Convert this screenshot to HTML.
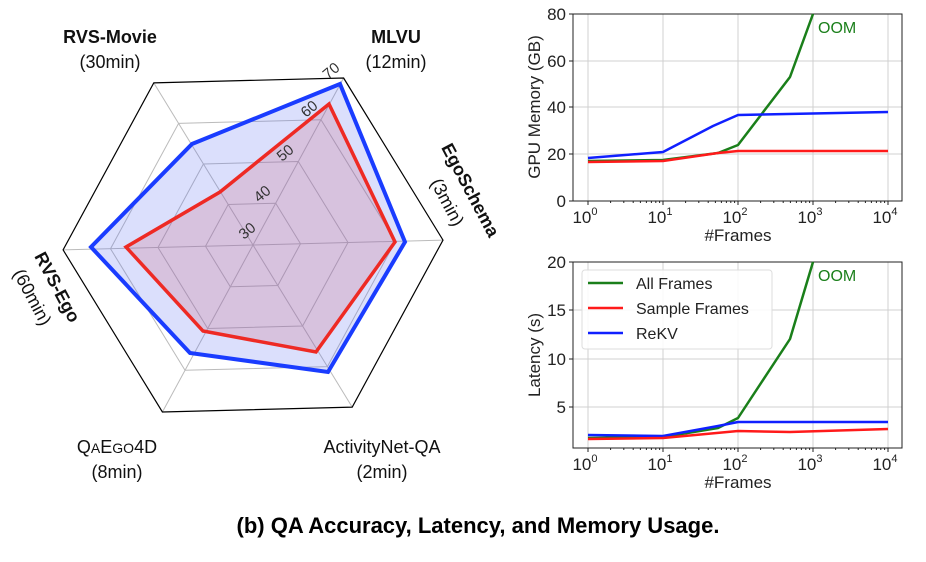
<!DOCTYPE html>
<html><head><meta charset="utf-8"><style>
html,body{margin:0;padding:0;background:#fff;}
svg{display:block;font-family:"Liberation Sans","DejaVu Sans",sans-serif;}
</style></head><body>
<svg width="926" height="562" viewBox="0 0 926 562" xmlns="http://www.w3.org/2000/svg">
<g fill="none" stroke="#bbb" stroke-width="1">
<polygon points="321,119.7 395.5,241.3 327.4,366.6 185,370.3 110.5,248.7 178.6,123.4"/>
<polygon points="298.3,161.5 348,242.5 302.6,326 207.7,328.5 158,247.5 203.4,164"/>
<polygon points="275.7,203.2 300.5,243.8 277.8,285.5 230.3,286.8 205.5,246.2 228.2,204.5"/>
<line x1="253" y1="245" x2="343.6" y2="78"/><line x1="253" y1="245" x2="443" y2="240.1"/>
<line x1="253" y1="245" x2="352.2" y2="407.1"/><line x1="253" y1="245" x2="162.4" y2="412"/>
<line x1="253" y1="245" x2="63.1" y2="249.9"/><line x1="253" y1="245" x2="153.8" y2="82.9"/>
</g>
<polygon points="343.6,78 443,240.1 352.2,407.1 162.4,412 63.1,249.9 153.8,82.9" fill="none" stroke="#000" stroke-width="1.2"/>
<polygon points="340,84 405,242 328,372 190,353 91,247 192,144" fill="rgba(90,110,240,0.22)" stroke="#1a3cff" stroke-width="4"/>
<polygon points="329,104 395,242 316,352 203,331 126,247 220,192" fill="rgba(200,90,120,0.22)" stroke="#ee2a24" stroke-width="3.5"/>
<g font-size="15" fill="#333">
<text transform="translate(244,240) rotate(-40)">30</text>
<text transform="translate(259,203) rotate(-40)">40</text>
<text transform="translate(282,162) rotate(-40)">50</text>
<text transform="translate(306,118) rotate(-40)">60</text>
<text transform="translate(328,80) rotate(-40)">70</text>
</g>
<g font-size="18" fill="#111" text-anchor="middle">
<text x="110" y="43" font-weight="bold">RVS-Movie</text><text x="110" y="68">(30min)</text>
<text x="396" y="43" font-weight="bold">MLVU</text><text x="396" y="68">(12min)</text>
<text x="117" y="453">Q<tspan font-size="14">A</tspan>E<tspan font-size="14">GO</tspan>4D</text><text x="117" y="478">(8min)</text>
<text x="382" y="453">ActivityNet-QA</text><text x="382" y="478">(2min)</text>
<text transform="translate(465,193) rotate(62)" font-weight="bold">EgoSchema</text>
<text transform="translate(442,205) rotate(62)">(3min)</text>
<text transform="translate(52,290) rotate(62)" font-weight="bold">RVS-Ego</text>
<text transform="translate(27,300) rotate(62)">(60min)</text>
</g>
<g stroke="#d0d0d0" stroke-width="1">
<line x1="588" y1="14" x2="588" y2="201"/><line x1="663" y1="14" x2="663" y2="201"/><line x1="738" y1="14" x2="738" y2="201"/><line x1="813" y1="14" x2="813" y2="201"/><line x1="888" y1="14" x2="888" y2="201"/>
<line x1="573" y1="61" x2="902" y2="61"/><line x1="573" y1="107" x2="902" y2="107"/><line x1="573" y1="154" x2="902" y2="154"/>
<line x1="588" y1="262" x2="588" y2="448"/><line x1="663" y1="262" x2="663" y2="448"/><line x1="738" y1="262" x2="738" y2="448"/><line x1="813" y1="262" x2="813" y2="448"/><line x1="888" y1="262" x2="888" y2="448"/>
<line x1="573" y1="310" x2="902" y2="310"/><line x1="573" y1="359" x2="902" y2="359"/><line x1="573" y1="407" x2="902" y2="407"/>
</g>
<rect x="573" y="14" width="329" height="187" fill="none" stroke="#222" stroke-width="1"/>
<rect x="573" y="262" width="329" height="186" fill="none" stroke="#222" stroke-width="1"/>
<g stroke="#222" stroke-width="1">
<path d="M588 201v4M663 201v4M738 201v4M813 201v4M888 201v4M573 14h-4M573 61h-4M573 107h-4M573 154h-4M573 201h-4"/>
<path d="M588 448v4M663 448v4M738 448v4M813 448v4M888 448v4M573 262h-4M573 310h-4M573 359h-4M573 407h-4"/>
<path d="M610.6 201v2M623.8 201v2M633.2 201v2M640.4 201v2M646.4 201v2M651.4 201v2M655.8 201v2M659.6 201v2M685.6 201v2M698.8 201v2M708.2 201v2M715.4 201v2M721.4 201v2M726.4 201v2M730.8 201v2M734.6 201v2M760.6 201v2M773.8 201v2M783.2 201v2M790.4 201v2M796.4 201v2M801.4 201v2M805.8 201v2M809.6 201v2M835.6 201v2M848.8 201v2M858.2 201v2M865.4 201v2M871.4 201v2M876.4 201v2M880.8 201v2M884.6 201v2"/>
<path d="M610.6 448v2M623.8 448v2M633.2 448v2M640.4 448v2M646.4 448v2M651.4 448v2M655.8 448v2M659.6 448v2M685.6 448v2M698.8 448v2M708.2 448v2M715.4 448v2M721.4 448v2M726.4 448v2M730.8 448v2M734.6 448v2M760.6 448v2M773.8 448v2M783.2 448v2M790.4 448v2M796.4 448v2M801.4 448v2M805.8 448v2M809.6 448v2M835.6 448v2M848.8 448v2M858.2 448v2M865.4 448v2M871.4 448v2M876.4 448v2M880.8 448v2M884.6 448v2"/>
</g>
<g fill="none" stroke-width="2.5" stroke-linejoin="round">
<polyline points="588,161 663,160 718,153 738,145 790,77 813,14" stroke="#1a7f1a"/>
<polyline points="588,158 663,152 713,126 738,115 888,112" stroke="#1020ff"/>
<polyline points="588,162 663,161 718,153 738,151 888,151" stroke="#ff1a1a"/>
<polyline points="588,438 663,437 718,428 738,418 790,339 813,262" stroke="#1a7f1a"/>
<polyline points="588,435 663,436 718,426 738,422 888,422" stroke="#1020ff"/>
<polyline points="588,439 663,438 738,431 790,432 888,429" stroke="#ff1a1a"/>
</g>
<g fill="#1a7f1a" font-size="16"><text x="818" y="33">OOM</text><text x="818" y="281">OOM</text></g>
<g font-size="17" fill="#222" text-anchor="end">
<text x="566" y="20">80</text><text x="566" y="67">60</text><text x="566" y="113">40</text><text x="566" y="160">20</text><text x="566" y="207">0</text>
<text x="566" y="268">20</text><text x="566" y="316">15</text><text x="566" y="365">10</text><text x="566" y="413">5</text>
</g>
<g font-size="17" fill="#222" text-anchor="middle">
<text x="585" y="223">10<tspan font-size="11" dy="-8">0</tspan></text><text x="660" y="223">10<tspan font-size="11" dy="-8">1</tspan></text><text x="735" y="223">10<tspan font-size="11" dy="-8">2</tspan></text><text x="810" y="223">10<tspan font-size="11" dy="-8">3</tspan></text><text x="885" y="223">10<tspan font-size="11" dy="-8">4</tspan></text>
<text x="585" y="470">10<tspan font-size="11" dy="-8">0</tspan></text><text x="660" y="470">10<tspan font-size="11" dy="-8">1</tspan></text><text x="735" y="470">10<tspan font-size="11" dy="-8">2</tspan></text><text x="810" y="470">10<tspan font-size="11" dy="-8">3</tspan></text><text x="885" y="470">10<tspan font-size="11" dy="-8">4</tspan></text>
<text x="738" y="241">#Frames</text><text x="738" y="488">#Frames</text>
<text transform="translate(540,107) rotate(-90)">GPU Memory (GB)</text>
<text transform="translate(540,355) rotate(-90)">Latency (s)</text>
</g>
<rect x="582" y="270" width="190" height="79" rx="3" fill="rgba(255,255,255,0.85)" stroke="#ddd"/>
<g stroke-width="2.5"><line x1="588" y1="283" x2="623" y2="283" stroke="#1a7f1a"/><line x1="588" y1="308" x2="623" y2="308" stroke="#ff1a1a"/><line x1="588" y1="333" x2="623" y2="333" stroke="#1020ff"/></g>
<g font-size="16" fill="#222"><text x="636" y="289">All Frames</text><text x="636" y="314">Sample Frames</text><text x="636" y="339">ReKV</text></g>
<text x="478" y="533" text-anchor="middle" font-size="22" font-weight="bold" fill="#000">(b) QA Accuracy, Latency, and Memory Usage.</text>
</svg>
</body></html>
